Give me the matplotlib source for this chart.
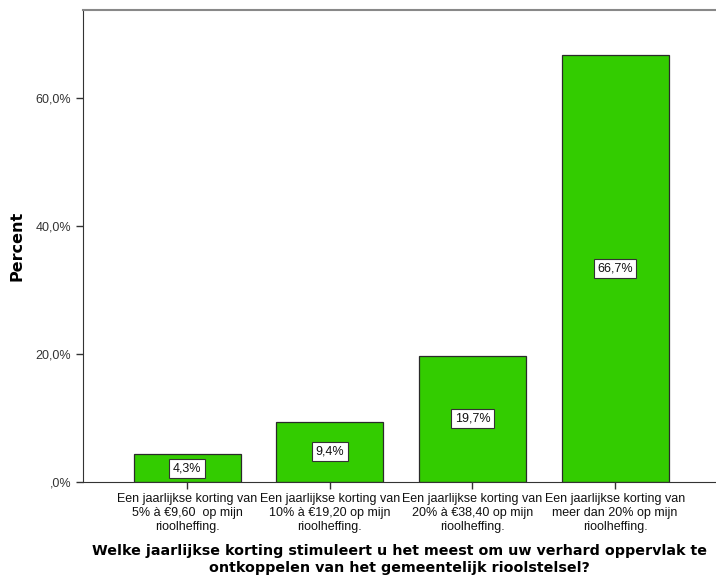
import matplotlib
matplotlib.use("Agg")
import matplotlib.pyplot as plt

plt.rcParams['font.family'] = ['Liberation Sans', 'DejaVu Sans']

categories = [
    "Een jaarlijkse korting van\n5% à €9,60  op mijn\nrioolheffing.",
    "Een jaarlijkse korting van\n10% à €19,20 op mijn\nrioolheffing.",
    "Een jaarlijkse korting van\n20% à €38,40 op mijn\nrioolheffing.",
    "Een jaarlijkse korting van\nmeer dan 20% op mijn\nrioolheffing.",
]
percent = [4.3, 9.4, 19.7, 66.7]
yticks = [0, 20, 40, 60]
ytick_labels = [",0%", "20,0%", "40,0%", "60,0%"]
xlabel = "Welke jaarlijkse korting stimuleert u het meest om uw verhard oppervlak te\nontkoppelen van het gemeentelijk rioolstelsel?"
ylabel = "Percent"

fig = plt.figure(figsize=(7.16, 5.76), dpi=100)
ax = fig.add_axes([0.1159, 0.1632, 0.8841, 0.8194])

x = list(range(len(categories)))
ax.bar(x, percent, width=0.75, color="#33CC00", edgecolor="#2a2a2a", linewidth=0.9, zorder=2)

for xi, v in zip(x, percent):
    ax.text(xi, v / 2, f"{v:.1f}%".replace(".", ","), ha="center", va="center",
            fontsize=9, color="#111111", zorder=3,
            bbox=dict(boxstyle="square,pad=0.28", facecolor="white", edgecolor="#333333", linewidth=0.8))

ax.set_xlim(-0.729, 3.707)
ax.set_ylim(0, 73.75)
ax.set_yticks(yticks)
ax.set_yticklabels(ytick_labels, fontsize=9, color="#333333")
ax.set_xticks(x)
ax.set_xticklabels(categories, fontsize=9, color="#111111", linespacing=1.2)
ax.tick_params(axis="both", direction="out", length=5, width=1, color="#333333")
ax.tick_params(axis="x", pad=3)

ax.spines["right"].set_visible(False)
ax.spines["top"].set_color("#888888")
ax.spines["top"].set_linewidth(1.5)
ax.spines["left"].set_color("#333333")
ax.spines["bottom"].set_color("#333333")

ax.set_ylabel(ylabel, fontsize=11.5, fontweight="bold", family=["DejaVu Sans"], labelpad=8)
ax.set_xlabel(xlabel, fontsize=10.3, fontweight="bold", family=["DejaVu Sans"], labelpad=8, linespacing=1.3)

fig.savefig("out.png", dpi=100)
